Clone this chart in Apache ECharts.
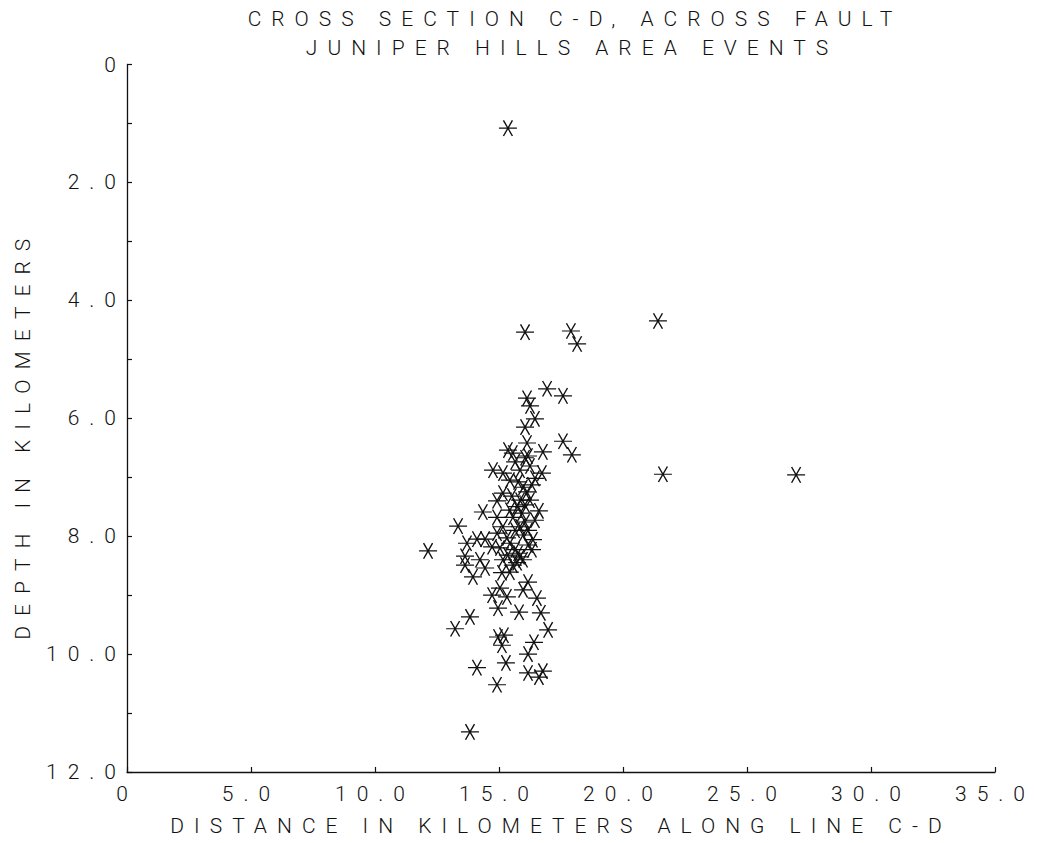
<!DOCTYPE html>
<html>
<head>
<meta charset="utf-8">
<script src="https://cdn.jsdelivr.net/npm/echarts@6/dist/echarts.min.js"></script>
<style>
  html, body { margin: 0; padding: 0; background: #fff; }
  #chart { width: 1038px; height: 843px; }
  #chart text { letter-spacing: 10px; }
</style>
</head>
<body>
<div id="chart"></div>
<script>
// Titles and axis names
const titleLine1 = 'CROSS SECTION C-D, ACROSS FAULT';
const titleLine2 = 'JUNIPER HILLS AREA EVENTS';
const xAxisName = 'DISTANCE IN KILOMETERS ALONG LINE C-D';
const yAxisName = 'DEPTH IN KILOMETERS';

// Tick labels
const xTickLabels = ['0', '5.0', '10.0', '15.0', '20.0', '25.0', '30.0', '35.0'];
const yTickLabels = ['0', '2.0', '4.0', '6.0', '8.0', '10.0', '12.0'];

// Event positions: distance along line C-D (km) and depth (km)
const distanceKm = [
  15.36, 16.05, 17.90, 18.15, 21.41, 21.61, 26.98,
  16.94, 17.58, 16.13, 16.25, 16.45, 16.05, 16.13, 17.58, 17.94, 16.77,
  15.36, 15.56, 16.05, 16.17, 14.76, 16.73, 15.16, 15.44, 15.77, 15.97,
  16.33, 15.16, 15.85, 14.92, 16.61, 14.35, 15.73, 15.93, 14.92, 15.56,
  13.35, 15.16, 15.85, 16.17, 14.92, 16.37, 14.11, 14.44, 13.71, 15.44,
  14.72, 15.04, 15.65, 12.14, 15.85, 13.63, 14.23, 15.16, 13.63, 14.44,
  15.56, 15.73, 13.95, 15.12, 15.44, 16.17, 15.04, 14.72, 15.97, 16.53,
  15.32, 14.96, 15.81, 16.69, 13.83, 16.98, 13.23, 14.96, 15.20, 16.41,
  15.12, 16.17, 14.11, 15.28, 16.77, 16.17, 16.61, 14.92, 13.83,
  15.65, 16.25, 15.85, 16.45, 16.13, 15.52, 16.25, 16.05, 15.44, 16.45,
  16.05, 15.65, 15.97, 15.32, 16.17, 15.77, 15.36, 15.97, 16.33
];
const depthKm = [
  1.08, 4.54, 4.52, 4.74, 4.35, 6.95, 6.96,
  5.50, 5.62, 5.66, 5.79, 6.01, 6.15, 6.42, 6.39, 6.62, 6.57,
  6.54, 6.59, 6.67, 6.64, 6.88, 6.93, 6.93, 7.05, 7.08, 7.17,
  7.13, 7.27, 7.39, 7.40, 7.57, 7.59, 7.50, 7.61, 7.68, 7.68,
  7.83, 7.84, 7.84, 7.90, 7.95, 8.06, 8.05, 8.05, 8.12, 8.12,
  8.18, 8.20, 8.23, 8.25, 8.35, 8.34, 8.40, 8.40, 8.49, 8.54,
  8.49, 8.45, 8.69, 8.62, 8.61, 8.78, 8.88, 9.00, 8.91, 9.05,
  9.03, 9.22, 9.29, 9.30, 9.37, 9.59, 9.57, 9.71, 9.68, 9.80,
  9.85, 10.00, 10.23, 10.15, 10.29, 10.32, 10.39, 10.52, 11.32,
  6.74, 6.81, 6.88, 7.02, 7.25, 7.32, 7.39, 7.47, 7.56, 7.73,
  7.76, 7.90, 7.98, 8.03, 8.15, 8.29, 8.32, 8.40, 8.23
];

const points = distanceKm.map((d, i) => [d, depthKm[i]]);

const FONT = 'Roboto';
const WEIGHT = 300;
const INK = '#111';
const txt = { fontFamily: FONT, fontSize: 21, fontWeight: WEIGHT, color: INK };

const chart = echarts.init(document.getElementById('chart'), null, { renderer: 'svg' });
chart.setOption({
  backgroundColor: '#fff',
  animation: false,
  title: [
    { text: titleLine1, left: 570, top: 3, textAlign: 'center', textStyle: txt },
    { text: titleLine2, left: 567, top: 32, textAlign: 'center', textStyle: txt }
  ],
  grid: { left: 127, right: 43, top: 64.5, bottom: 71, containLabel: false },
  xAxis: {
    type: 'value', min: 0, max: 35, interval: 5,
    name: xAxisName, nameLocation: 'middle', nameGap: 43,
    nameTextStyle: txt,
    axisLine: { show: true, onZero: false, lineStyle: { color: INK, width: 1.3 } },
    axisTick: { show: true, inside: true, length: 5, lineStyle: { color: INK, width: 1.2 } },
    splitLine: { show: false },
    axisLabel: Object.assign({}, txt, {
      margin: 11,
      formatter: v => xTickLabels[Math.round(v / 5)]
    })
  },
  yAxis: {
    type: 'value', min: 0, max: 12, interval: 1, inverse: true,
    name: yAxisName, nameLocation: 'middle', nameGap: 94,
    nameTextStyle: Object.assign({}, txt, { padding: [0, 32, 0, 0] }),
    axisLine: { show: true, onZero: false, lineStyle: { color: INK, width: 1.3 } },
    axisTick: { show: true, inside: true, length: 5, lineStyle: { color: INK, width: 1.2 } },
    splitLine: { show: false },
    axisLabel: Object.assign({}, txt, {
      margin: 1,
      formatter: v => (Math.round(v) % 2 === 0 ? yTickLabels[Math.round(v) / 2] : '')
    })
  },
  series: [{
    type: 'scatter',
    data: points,
    symbol: 'path://M0,10 L20,10 M5,1.34 L15,18.66 M15,1.34 L5,18.66',
    symbolSize: [18, 15.6],
    itemStyle: { color: 'transparent', borderColor: INK, borderWidth: 1.3, opacity: 1 },
    emphasis: { disabled: true },
    silent: true
  }]
});
</script>
</body>
</html>
